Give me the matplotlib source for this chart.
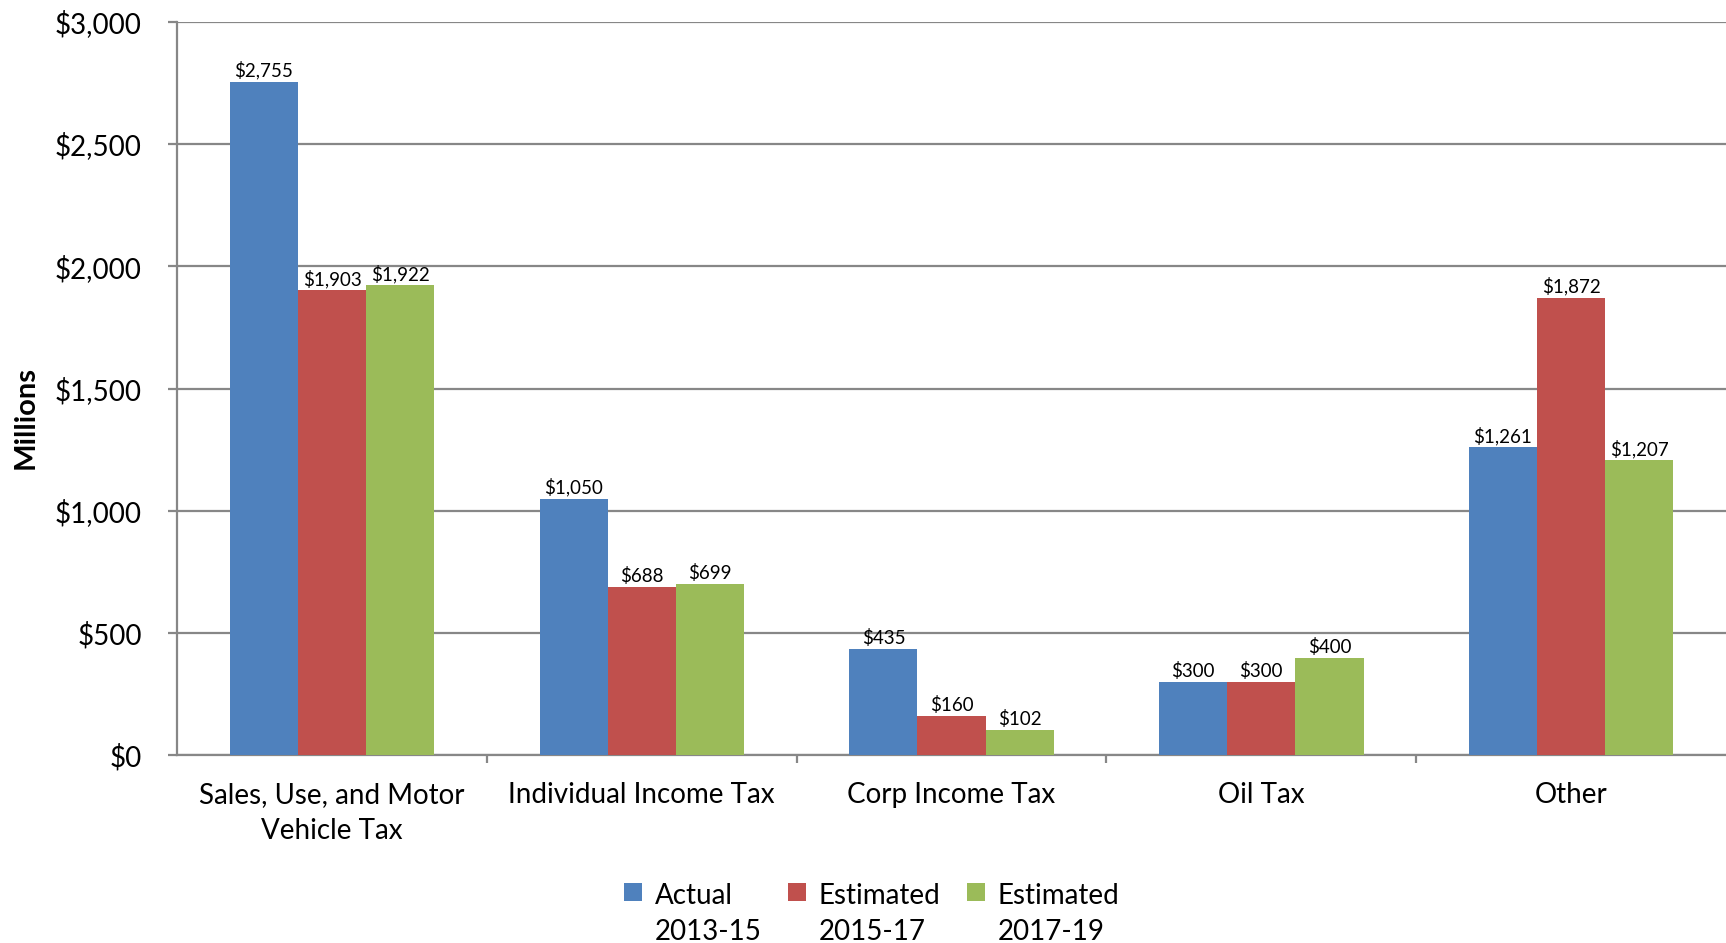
import matplotlib
matplotlib.use('Agg')
import matplotlib.pyplot as plt
import numpy as np
from matplotlib.ticker import FuncFormatter

categories = ["Sales, Use, and Motor\nVehicle Tax", "Individual Income Tax",
              "Corp Income Tax", "Oil Tax", "Other"]
series_labels = ["Actual\n2013-15", "Estimated\n2015-17", "Estimated\n2017-19"]
actual_13_15 = [2755, 1050, 435, 300, 1261]
est_15_17 = [1903, 688, 160, 300, 1872]
est_17_19 = [1922, 699, 102, 400, 1207]

colors = ["#4F81BD", "#C0504D", "#9BBB59"]
grid_col = "#878787"

plt.rcParams['font.family'] = ['Lato', 'DejaVu Sans']

fig = plt.figure(figsize=(17.26, 9.43), dpi=100)
ax = fig.add_axes([0.1026, 0.199, 0.8974, 0.778])

x = np.arange(len(categories))
width = 0.22
for i, vals in enumerate([actual_13_15, est_15_17, est_17_19]):
    bars = ax.bar(x + (i - 1) * width, vals, width, color=colors[i],
                  label=series_labels[i], zorder=3)
    for bar, v in zip(bars, vals):
        ax.text(bar.get_x() + bar.get_width() / 2, v + 8, f"${v:,}",
                ha='center', va='bottom', fontsize=13.5, zorder=4)

ax.set_xlim(-0.5, len(categories) - 0.5)
ax.set_ylim(0, 3000)
ax.set_yticks(np.arange(0, 3001, 500))
ax.yaxis.set_major_formatter(FuncFormatter(lambda v, p: f"${int(v):,}"))
ax.grid(axis='y', color=grid_col, linewidth=1.6, zorder=0)

ax.set_xticks(x)
ax.set_xticklabels(categories, fontsize=20, linespacing=1.5)
ax.set_xticks(np.arange(0.5, len(categories) - 1, 1), minor=True)
ax.tick_params(axis='x', which='major', length=0, pad=19)
ax.tick_params(axis='x', which='minor', length=6, width=1.6, color=grid_col)
ax.tick_params(axis='y', length=6.5, width=1.6, color=grid_col, pad=19, labelsize=20)

for s in ['top', 'right']:
    ax.spines[s].set_visible(False)
for s in ['left', 'bottom']:
    ax.spines[s].set_color(grid_col)
    ax.spines[s].set_linewidth(1.6)

fig.text(0.015, 0.557, "Millions", rotation=90, ha='center', va='center',
         fontsize=21, fontweight='bold')

leg = fig.legend(loc='center', bbox_to_anchor=(0.505, 0.031), ncol=3, frameon=False,
                 fontsize=20, handlelength=0.65, handleheight=0.65, handletextpad=0.45,
                 columnspacing=0.95)
for t in leg.get_texts():
    t.set_linespacing(1.5)
# put the colour squares next to the first line of each label
for col in leg._legend_handle_box.get_children():
    for item in col.get_children():
        item.align = 'top'

fig.savefig("out.png", dpi=100)
